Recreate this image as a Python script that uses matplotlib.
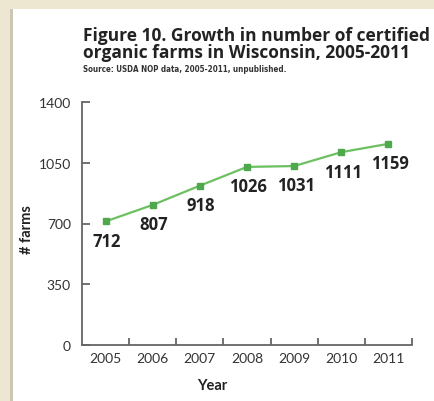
import matplotlib.pyplot as plt
from matplotlib.patches import Rectangle
from matplotlib.ticker import FixedLocator

years = ["2005", "2006", "2007", "2008", "2009", "2010", "2011"]
farms = [712, 807, 918, 1026, 1031, 1111, 1159]
yticks = [0, 350, 700, 1050, 1400]

W, H = 435, 402
fig = plt.figure(figsize=(W / 100, H / 100), dpi=100, facecolor="#ede6d0")

# white panel with a soft grey edge on the left
fig.patches.append(Rectangle((10 / W, 0), 3 / W, 1 - 10 / H, transform=fig.transFigure,
                             facecolor="#cdc6b2", edgecolor="none", zorder=-5))
fig.patches.append(Rectangle((13 / W, 0), 1 - 13 / W, 1 - 10 / H, transform=fig.transFigure,
                             facecolor="white", edgecolor="none", zorder=-5))

ax = fig.add_axes([82 / W, 1 - 346 / H, 330 / W, 243 / H])
ax.set_facecolor("none")

x = list(range(len(years)))
ax.plot(x, farms, color="#6cc060", lw=1.6, marker="s", ms=4.5,
        mfc="#4fa84c", mec="#4fa84c", zorder=3)

for xi, v in zip(x, farms):
    ax.annotate(str(v), (xi, v), xytext=(1, -14), textcoords="offset points",
                ha="center", va="center", fontsize=12, fontweight="bold",
                family="Open Sans", color="#222222")

ax.set_xlim(-0.5, len(years) - 0.5)
ax.set_ylim(0, 1400)
ax.set_yticks(yticks)
ax.set_xticks(x)
ax.set_xticklabels(years)
ax.xaxis.set_minor_locator(FixedLocator([i + 0.5 for i in x]))

for s in ["top", "right"]:
    ax.spines[s].set_visible(False)
for s in ["left", "bottom"]:
    ax.spines[s].set_color("#666666")
    ax.spines[s].set_linewidth(1.3)

ax.tick_params(axis="x", which="major", length=0, pad=5, labelsize=10, labelcolor="#333333")
ax.tick_params(axis="x", which="minor", direction="in", length=5, width=1.3, color="#666666")
ax.tick_params(axis="y", direction="in", length=6, width=1.3, color="#666666",
               pad=8, labelsize=10, labelcolor="#333333")
for lab in ax.get_xticklabels() + ax.get_yticklabels():
    lab.set_family("Lato")

fig.text(27 / W, 1 - 230 / H, "# farms", rotation=90, ha="center", va="center",
         fontsize=10.5, fontweight="bold", family="Lato", color="#222222")
fig.text(212 / W, 1 - 386 / H, "Year", ha="center", va="center",
         fontsize=10.5, fontweight="bold", family="Lato", color="#222222")

fig.text(83 / W, 1 - 27 / H, "Figure 10. Growth in number of certified\norganic farms in Wisconsin, 2005-2011",
         ha="left", va="top", fontsize=12.5, fontweight="bold", family="Open Sans",
         color="#222222", linespacing=0.95)
fig.text(83 / W, 1 - 70 / H, "Source: USDA NOP data, 2005-2011, unpublished.",
         ha="left", va="center", fontsize=5.8, fontweight="bold", fontstretch="condensed",
         family="DejaVu Sans", color="#333333")

fig.savefig("out.png", dpi=100, facecolor=fig.get_facecolor())
